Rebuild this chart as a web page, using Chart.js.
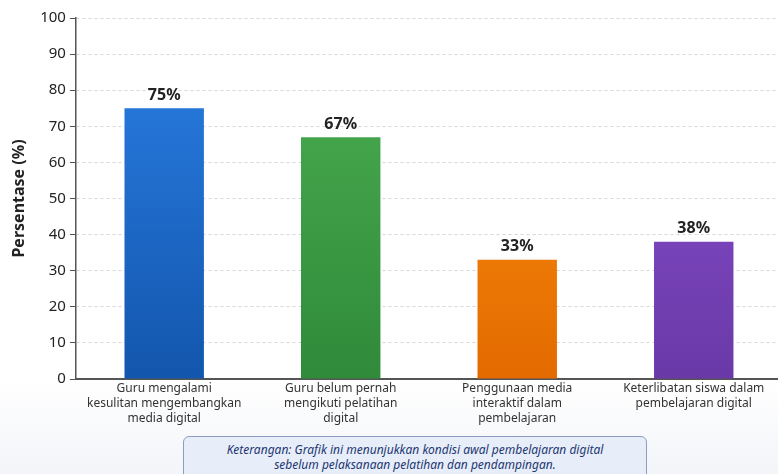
<!DOCTYPE html>
<html>
<head>
<meta charset="utf-8">
<script src="https://cdn.jsdelivr.net/npm/chart.js@4.4.1/dist/chart.umd.min.js"></script>
<style>
    html, body { margin: 0; padding: 0; }
    body {
        width: 778px; height: 474px; overflow: hidden; position: relative;
        background: linear-gradient(to bottom, #ffffff 0%, #ffffff 80%, #f3f5f9 100%);
        font-family: "Noto Sans", sans-serif;
    }
    #wrap { position: absolute; left: 0; top: 0; width: 782px; height: 474px; }
    .note {
        position: absolute; left: 183px; top: 436px; width: 464px; height: 48px;
        box-sizing: border-box; border: 1px solid #8d9dc2; border-radius: 6px;
        background: #e7eefa; color: #1d3670; font-style: italic;
        font-size: 12px; line-height: 15px; text-align: center; padding-top: 5px;
    }
</style>
</head>
<body>
<div id="wrap"><canvas id="chart"></canvas></div>
<div class="note">Keterangan: Grafik ini menunjukkan kondisi awal pembelajaran digital<br>sebelum pelaksanaan pelatihan dan pendampingan.</div>
<script>
document.addEventListener('DOMContentLoaded', () => {
    // ── Data ────────────────────────────────────────────────
    const categories = [
        ['Guru mengalami', 'kesulitan mengembangkan', 'media digital'],
        ['Guru belum pernah', 'mengikuti pelatihan', 'digital'],
        ['Penggunaan media', 'interaktif dalam', 'pembelajaran'],
        ['Keterlibatan siswa dalam', 'pembelajaran digital']
    ];
    const values = [75, 67, 33, 38];
    const yTicks = [0, 10, 20, 30, 40, 50, 60, 70, 80, 90, 100];

    // top / bottom colours of each bar gradient
    const barTop = ['#2b80e6', '#4db053', '#ff9612', '#8c52d2'];
    const barBottom = ['#1356ad', '#2f8a39', '#e36a00', '#6a39a8'];

    // ── Value labels above bars ─────────────────────────────
    const valueLabels = {
        id: 'valueLabels',
        afterDatasetsDraw(chart) {
            const { ctx } = chart;
            const meta = chart.getDatasetMeta(0);
            ctx.save();
            ctx.font = 'bold 16px "Noto Sans", sans-serif';
            ctx.fillStyle = '#222';
            ctx.textAlign = 'center';
            ctx.textBaseline = 'bottom';
            meta.data.forEach((bar, i) => {
                ctx.fillText(values[i] + '%', bar.x, bar.y - 5);
            });
            ctx.restore();
        }
    };

    const ctx = document.getElementById('chart').getContext('2d');
    new Chart(ctx, {
        type: 'bar',
        data: {
            labels: categories,
            datasets: [{
                data: values,
                backgroundColor: (c) => {
                    const area = c.chart.chartArea;
                    if (!area) return barTop[c.dataIndex];
                    const g = c.chart.ctx.createLinearGradient(0, area.top, 0, area.bottom);
                    g.addColorStop(0, barTop[c.dataIndex]);
                    g.addColorStop(1, barBottom[c.dataIndex]);
                    return g;
                },
                borderWidth: 0,
                barPercentage: 0.45,
                categoryPercentage: 1.0
            }]
        },
        options: {
            responsive: true,
            maintainAspectRatio: false,
            animation: false,
            layout: { padding: { top: 18, right: 0, bottom: 46, left: 10 } },
            plugins: {
                legend: { display: false },
                tooltip: { enabled: false }
            },
            scales: {
                y: {
                    min: 0,
                    max: 100,
                    afterBuildTicks: (axis) => { axis.ticks = yTicks.map(v => ({ value: v })); },
                    title: {
                        display: true,
                        text: 'Persentase (%)',
                        color: '#222',
                        font: { family: '"Noto Sans", sans-serif', size: 16, weight: 'bold' },
                        padding: { top: 0, bottom: 7 }
                    },
                    ticks: {
                        color: '#222',
                        font: { family: '"Noto Sans", sans-serif', size: 15 },
                        padding: 4
                    },
                    grid: {
                        color: '#d6d6d6',
                        tickColor: '#555',
                        tickLength: 6,
                        drawTicks: true
                    },
                    border: { color: '#555', width: 1.5, dash: [3, 3] }
                },
                x: {
                    ticks: {
                        color: '#333',
                        font: { family: '"Noto Sans", sans-serif', size: 12, lineHeight: 1.25 },
                        padding: 2,
                        maxRotation: 0
                    },
                    grid: { display: false, drawTicks: false },
                    border: { color: '#555', width: 2 }
                }
            }
        },
        plugins: [valueLabels]
    });
});
</script>
</body>
</html>
